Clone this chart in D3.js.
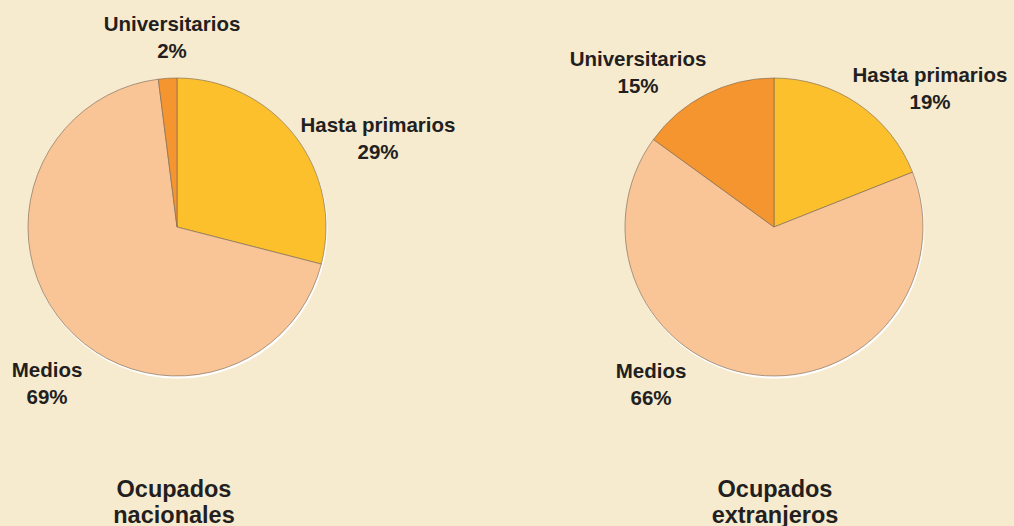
<!DOCTYPE html>
<html><head><meta charset="utf-8">
<script src="https://cdn.jsdelivr.net/npm/d3@7"></script>
<style>html,body{margin:0;padding:0;background:#F7EBCF;}svg{display:block;}</style>
</head><body>
<svg id="c" width="1014" height="526"></svg>
<script>
const categories = ["Hasta primarios", "Medios", "Universitarios"];
const nacionales = [29, 69, 2];
const extranjeros = [19, 66, 15];
const titles = [["Ocupados", "nacionales"], ["Ocupados", "extranjeros"]];
const colors = ["#FDC02D", "#F9C597", "#F5952F"];

const svg = d3.select("#c");
svg.append("rect").attr("width",1014).attr("height",526).attr("fill","#F7EBCF");

const pies = [
  {values: nacionales, cx: 177, cy: 227, r: 149, title: titles[0], tx: 174,
   labels: [{x:378, y:132}, {x:47, y:377}, {x:172, y:31}]},
  {values: extranjeros, cx: 774, cy: 227, r: 149, title: titles[1], tx: 775,
   labels: [{x:930, y:82}, {x:651, y:378}, {x:638, y:66}]}
];

const pie = d3.pie().sort(null).value(d => d);
const color = d3.scaleOrdinal().domain(categories).range(colors);

pies.forEach(p => {
  const g = svg.append("g").attr("transform", `translate(${p.cx},${p.cy})`);
  g.append("circle").attr("cx", 1).attr("cy", 2).attr("r", p.r + 0.5).attr("fill", "#ffffff");
  const arc = d3.arc().innerRadius(0).outerRadius(p.r);
  g.selectAll("path").data(pie(p.values)).enter().append("path")
    .attr("d", arc)
    .attr("fill", (d, i) => color(categories[i]))
    .attr("stroke", "#7a6a55").attr("stroke-width", 0.8).attr("stroke-opacity", 0.8)
    .attr("stroke-linejoin", "round");
  p.values.forEach((v, i) => {
    const t = svg.append("text").attr("text-anchor", "middle")
      .attr("font-family", "Liberation Sans, Arial, sans-serif")
      .attr("font-weight", "bold").attr("font-size", 20.5).attr("fill", "#231F20");
    t.append("tspan").attr("x", p.labels[i].x).attr("y", p.labels[i].y).text(categories[i]);
    t.append("tspan").attr("x", p.labels[i].x).attr("y", p.labels[i].y + 27).text(v + "%");
  });
  const tt = svg.append("text").attr("text-anchor", "middle")
    .attr("font-family", "Liberation Sans, Arial, sans-serif")
    .attr("font-weight", "bold").attr("font-size", 23.5).attr("fill", "#231F20");
  tt.append("tspan").attr("x", p.tx).attr("y", 497).text(p.title[0]);
  tt.append("tspan").attr("x", p.tx).attr("y", 523).text(p.title[1]);
});
</script>
</body></html>
